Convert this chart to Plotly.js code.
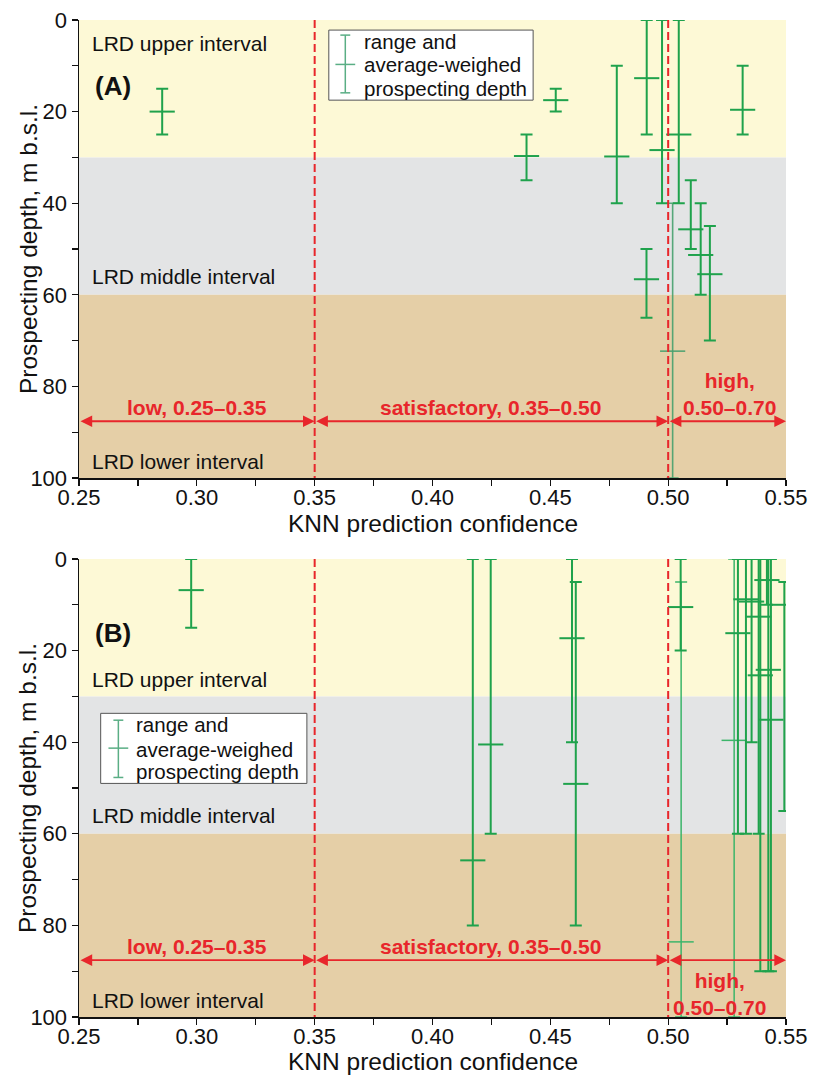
<!DOCTYPE html>
<html><head><meta charset="utf-8">
<script src="https://cdn.plot.ly/plotly-3.0.1.min.js"></script>
<style>html,body{margin:0;padding:0;background:#fff}#chart{width:814px;height:1080px}</style>
</head><body><div id="chart"></div>
<script>
// ---------- Panel A data ----------
const aX    = [0.2853, 0.4399, 0.4523, 0.4782, 0.4909, 0.4974, 0.5045, 0.5096, 0.5138, 0.5177, 0.5316, 0.4908];
const aMean = [20, 29.7, 17.5, 29.8, 12.7, 28.4, 25, 45.7, 51.3, 55.5, 19.6, 56.6];
const aLow  = [15, 25, 15, 10, 0, 0, 0, 35, 40, 45, 10, 50];
const aHigh = [25, 35, 20, 40, 25, 40, 40, 50, 60, 70, 25, 65];
const aThinX = [0.5019];
const aThinMean = [72.3];
const aThinLow = [40];
const aThinHigh = [100];

// ---------- Panel B data ----------
const bX    = [0.2976, 0.4171, 0.4247, 0.4592, 0.4608, 0.5053, 0.5296, 0.5330, 0.5354, 0.5384, 0.5391, 0.5419, 0.5425, 0.5436, 0.5493];
const bMean = [6.8, 65.8, 40.5, 17.3, 49.1, 10.5, 16.2, 8.8, 9.3, 12.6, 25.4, 4.6, 24.2, 35.1, 10];
const bLow  = [0, 0, 0, 0, 5, 0, 0, 0, 0, 0, 0, 0, 0, 0, 5];
const bHigh = [15, 80, 60, 40, 80, 20, 60, 60, 40, 60, 90, 10, 90, 90, 55];
const bThinX = [0.5055, 0.5280];
const bThinMean = [83.6, 39.6];
const bThinLow = [5, 0];
const bThinHigh = [100, 100];

// ---------- Labels ----------
const bandNames = ['LRD upper interval', 'LRD middle interval', 'LRD lower interval'];
const bandEdges = [0, 30, 60, 100];
const classLabels = ['low, 0.25–0.35', 'satisfactory, 0.35–0.50', 'high,<br>0.50–0.70'];
const classEdges = [0.25, 0.35, 0.50, 0.55];
const legendLines = ['range and', 'average-weighed', 'prospecting depth'];
const xTitle = 'KNN prediction confidence';
const yTitle = 'Prospecting depth, m b.s.l.';

const FONT = 'Liberation Sans, Arial, Helvetica, sans-serif';
const GREEN = '#1fa24c';
const THIN_A = 'rgba(70,160,110,0.9)';
const THIN_B = '#3cb56a';
const RED = '#e8262b';
const bandColors = ['#fdf9d6', '#e3e4e5', '#e5cfa7'];

function errTrace(xs, means, lows, highs, xa, ya, color, thick, capw, msize) {
  return {
    type: 'scatter', mode: 'markers', x: xs, y: means, xaxis: xa, yaxis: ya,
    showlegend: false, hoverinfo: 'skip', cliponaxis: true,
    marker: {symbol: 'line-ew', size: msize, color: color, line: {width: thick, color: color}},
    error_y: {type: 'data', symmetric: false,
      array: highs.map((h, i) => h - means[i]),
      arrayminus: lows.map((l, i) => means[i] - l),
      color: color, thickness: thick, width: capw}
  };
}

const data = [
  errTrace(aThinX, aThinMean, aThinLow, aThinHigh, 'x', 'y', THIN_A, 1.6, 6, 18),
  errTrace(aX, aMean, aLow, aHigh, 'x', 'y', GREEN, 2, 6, 18),
  errTrace(bThinX, bThinMean, bThinLow, bThinHigh, 'x2', 'y2', THIN_B, 1.5, 6, 18),
  errTrace(bX, bMean, bLow, bHigh, 'x2', 'y2', GREEN, 2, 6, 18)
];

const shapes = [];
const annotations = [];

function panel(xr, yr, opt) {
  for (let i = 0; i < 3; i++) {
    shapes.push({type: 'rect', xref: xr, yref: yr, x0: 0.25, x1: 0.55, y0: bandEdges[i], y1: bandEdges[i + 1],
      fillcolor: bandColors[i], line: {width: 0}, layer: 'below'});
  }
  [classEdges[1], classEdges[2]].forEach(v => shapes.push({type: 'line', xref: xr, yref: yr, x0: v, x1: v, y0: 0, y1: 100,
    line: {color: RED, width: 2, dash: '8px,4px'}, layer: 'above'}));
  for (let i = 0; i < 3; i++) {
    annotations.push({xref: xr, yref: yr, x: 0.2545, y: opt.bandY[i], text: bandNames[i], showarrow: false,
      xanchor: 'left', yanchor: 'middle', font: {family: FONT, size: 21, color: '#111'}});
  }
  annotations.push({xref: xr, yref: yr, x: 0.2645, y: opt.letterY, text: '<b>' + opt.letter + '</b>', showarrow: false,
    xanchor: 'center', yanchor: 'middle', font: {family: FONT, size: 26, color: '#111'}});
  for (let i = 0; i < 3; i++) {
    annotations.push({xref: xr, yref: yr, axref: xr, ayref: yr, x: classEdges[i + 1], y: 87.6,
      ax: classEdges[i], ay: 87.6, text: '', showarrow: true, arrowside: 'end+start',
      arrowhead: 2, arrowsize: 1.3, arrowwidth: 1.8, arrowcolor: RED, standoff: 0, startstandoff: 0});
    annotations.push({xref: xr, yref: yr, x: opt.classX[i], y: opt.classY[i], text: '<b>' + classLabels[i] + '</b>',
      showarrow: false, xanchor: 'center', yanchor: 'middle', align: 'center',
      font: {family: FONT, size: 21, color: RED}});
  }
  const L = opt.leg;
  shapes.push({type: 'rect', xref: xr, yref: yr, x0: L.x0, x1: L.x1, y0: L.y0, y1: L.y1,
    fillcolor: '#ffffff', line: {color: '#555', width: 1}, layer: 'above'});
  const sc = '#5aae85';
  shapes.push({type: 'line', xref: xr, yref: yr, x0: L.sx, x1: L.sx, y0: L.c0, y1: L.c1, line: {color: sc, width: 1.5}});
  shapes.push({type: 'line', xref: xr, yref: yr, x0: L.sx - L.cw, x1: L.sx + L.cw, y0: L.c0, y1: L.c0, line: {color: sc, width: 1.5}});
  shapes.push({type: 'line', xref: xr, yref: yr, x0: L.sx - L.cw, x1: L.sx + L.cw, y0: L.c1, y1: L.c1, line: {color: sc, width: 1.5}});
  shapes.push({type: 'line', xref: xr, yref: yr, x0: L.sx - 2 * L.cw, x1: L.sx + 2 * L.cw, y0: L.cm, y1: L.cm, line: {color: sc, width: 1.5}});
  for (let i = 0; i < 3; i++) {
    annotations.push({xref: xr, yref: yr, x: L.tx, y: L.ty[i], text: legendLines[i], showarrow: false,
      xanchor: 'left', yanchor: 'middle', font: {family: FONT, size: 20.5, color: '#111'}});
  }
}

panel('x', 'y', {
  bandY: [5.2, 55.9, 96.5], letter: '(A)', letterY: 14.3,
  classX: [0.3001, 0.4245, 0.5262], classY: [84.6, 84.6, 81.6],
  leg: {x0: 0.3560, x1: 0.4427, y0: 2.2, y1: 17.5, sx: 0.3630, cw: 0.0021, c0: 3.3, c1: 15.9, cm: 9.7,
        tx: 0.3700, ty: [4.7, 9.8, 14.9]}
});
panel('x2', 'y2', {
  bandY: [26.4, 55.9, 96.3], letter: '(B)', letterY: 16.2,
  classX: [0.3001, 0.4245, 0.5218], classY: [84.5, 84.5, 95.0],
  leg: {x0: 0.2592, x1: 0.3467, y0: 33.7, y1: 49.0, sx: 0.2667, cw: 0.0021, c0: 35.2, c1: 47.7, cm: 41.3,
        tx: 0.2734, ty: [36.2, 41.5, 46.4]}
});

// axis titles (placed as annotations for exact position)
const TF = {family: FONT, size: 24.5, color: '#111'};
[[0.7703, 0.4945], [0.2297, -0.0451]].forEach(([yc, xt]) => {
  annotations.push({xref: 'paper', yref: 'paper', x: -0.0721, y: yc, text: yTitle, textangle: -90, showarrow: false,
    xanchor: 'center', yanchor: 'middle', font: TF});
  annotations.push({xref: 'paper', yref: 'paper', x: 0.5, y: xt, text: xTitle, showarrow: false,
    xanchor: 'center', yanchor: 'middle', font: TF});
});

function xax(anchor) {
  return {anchor: anchor, domain: [0, 1], range: [0.25, 0.55], dtick: 0.05, tick0: 0.25, tickformat: '.2f',
    ticks: 'outside', ticklen: 6, tickwidth: 1.3, tickcolor: '#111', ticklabelstandoff: -7,
    minor: {dtick: 0.025, tick0: 0.25, ticks: 'outside', ticklen: 6, tickwidth: 1.3, tickcolor: '#111', showgrid: false},
    showline: true, linecolor: '#111', linewidth: 1.5, showgrid: false, zeroline: false,
    tickfont: {family: FONT, size: 22, color: '#111'}, automargin: false};
}
function yax(anchor, dom) {
  return {anchor: anchor, domain: dom, range: [100, 0], dtick: 20, tick0: 0,
    ticks: 'outside', ticklen: 6, tickwidth: 1.3, tickcolor: '#111',
    minor: {dtick: 10, tick0: 0, ticks: 'outside', ticklen: 6, tickwidth: 1.3, tickcolor: '#111', showgrid: false},
    showline: true, linecolor: '#111', linewidth: 1.5, showgrid: false, zeroline: false,
    tickfont: {family: FONT, size: 22, color: '#111'}, automargin: false};
}

const layout = {
  width: 814, height: 1080, margin: {l: 79, r: 28, t: 20, b: 63},
  paper_bgcolor: '#fff', plot_bgcolor: '#fff', showlegend: false,
  xaxis: xax('y'), yaxis: yax('x', [0.5406, 1]),
  xaxis2: xax('y2'), yaxis2: yax('x2', [0, 0.4594]),
  shapes: shapes, annotations: annotations
};

Plotly.newPlot('chart', data, layout, {staticPlot: true, displayModeBar: false});
</script>
</body></html>
